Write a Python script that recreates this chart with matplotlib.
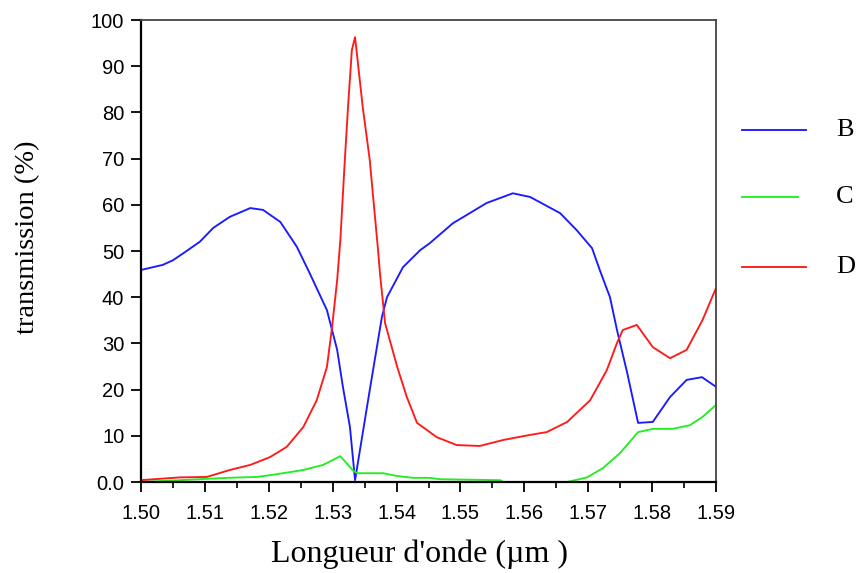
import matplotlib
matplotlib.use("Agg")
import matplotlib.pyplot as plt
from matplotlib.ticker import MultipleLocator, FuncFormatter

# wavelength (um) / transmission (%)
b_x = [1.5000, 1.5034, 1.5050, 1.5066, 1.5092, 1.5113, 1.5139, 1.5171, 1.5191,
       1.5218, 1.5244, 1.5264, 1.5291, 1.5307, 1.5316, 1.5327, 1.5335, 1.5358,
       1.5377, 1.5385, 1.5410, 1.5437, 1.5452, 1.5488, 1.5541, 1.5582, 1.5609,
       1.5656, 1.5682, 1.5706, 1.5718, 1.5734, 1.5745, 1.5761, 1.5778, 1.5801,
       1.5828, 1.5854, 1.5878, 1.5900]
b_y = [45.9, 47.0, 48.0, 49.5, 52.0, 55.0, 57.4, 59.3, 58.9,
       56.3, 50.9, 45.2, 37.2, 28.6, 20.6, 11.9, 0.4, 19.9,
       35.7, 40.0, 46.5, 50.2, 51.7, 56.0, 60.4, 62.5, 61.7,
       58.2, 54.5, 50.6, 45.9, 40.0, 32.9, 23.6, 12.8, 13.0,
       18.4, 22.1, 22.7, 20.6]

c_x = [1.5000, 1.5061, 1.5135, 1.5182, 1.5213, 1.5254, 1.5285, 1.5312, 1.5331,
       1.5338, 1.5379, 1.5401, 1.5426, 1.5452, 1.5468, 1.5562, 1.5567, 1.5667,
       1.5698, 1.5723, 1.5750, 1.5778, 1.5801, 1.5832, 1.5859, 1.5879, 1.5900]
c_y = [0.0, 0.4, 0.9, 1.1, 1.7, 2.6, 3.7, 5.6, 2.6,
       1.9, 1.9, 1.3, 0.9, 0.9, 0.6, 0.4, 0.0, 0.0,
       1.0, 3.0, 6.3, 10.8, 11.5, 11.5, 12.3, 14.1, 16.7]

d_x = [1.5000, 1.5061, 1.5103, 1.5139, 1.5171, 1.5202, 1.5228, 1.5254, 1.5275,
       1.5291, 1.5299, 1.5307, 1.5312, 1.5319, 1.5324, 1.5330, 1.5335, 1.5339,
       1.5347, 1.5358, 1.5371, 1.5374, 1.5382, 1.5401, 1.5416, 1.5432, 1.5463,
       1.5494, 1.5530, 1.5567, 1.5609, 1.5635, 1.5667, 1.5703, 1.5729, 1.5745,
       1.5754, 1.5776, 1.5801, 1.5828, 1.5854, 1.5879, 1.5900]
d_y = [0.4, 1.0, 1.1, 2.6, 3.7, 5.4, 7.6, 11.9, 17.7,
       24.9, 33.5, 43.7, 52.4, 69.7, 81.2, 93.5, 96.3, 91.3,
       81.2, 69.7, 50.2, 45.2, 34.4, 24.9, 18.4, 12.8, 9.7,
       8.0, 7.8, 9.1, 10.2, 10.8, 13.0, 17.7, 24.2, 30.1,
       32.9, 34.0, 29.2, 26.8, 28.6, 35.1, 42.0]

series = [("B", b_x, b_y, "#1a1aff"), ("C", c_x, c_y, "#22ee22"), ("D", d_x, d_y, "#ff1a1a")]

tick_font = ["Liberation Sans Narrow", "Liberation Sans", "DejaVu Sans"]
serif_font = ["Liberation Serif", "DejaVu Serif"]

fig = plt.figure(figsize=(8.63, 5.73), dpi=100)
ax = fig.add_axes([0.1634, 0.1588, 0.8297 - 0.1634, 0.965 - 0.1588])

for name, xs, ys, col in series:
    ax.plot(xs, ys, color=col, lw=1.35)

ax.set_xlim(1.50, 1.59)
ax.set_ylim(0, 100)
ax.xaxis.set_major_locator(MultipleLocator(0.01))
ax.xaxis.set_minor_locator(MultipleLocator(0.005))
ax.yaxis.set_major_locator(MultipleLocator(10))
ax.xaxis.set_major_formatter(FuncFormatter(lambda v, p: f"{v:.2f}"))
ax.yaxis.set_major_formatter(FuncFormatter(lambda v, p: "0.0" if abs(v) < 1e-9 else f"{v:.0f}"))
ax.tick_params(axis="both", which="major", direction="out", length=7, width=1.3, labelsize=14.5)
ax.tick_params(axis="x", which="major", pad=9)
ax.tick_params(axis="y", which="major", pad=5)
ax.tick_params(axis="x", which="minor", direction="out", length=4, width=1.2)
for lab in ax.get_xticklabels() + ax.get_yticklabels():
    lab.set_family(tick_font)
for side in ["left", "bottom"]:
    ax.spines[side].set_linewidth(1.6)
for side in ["top", "right"]:
    ax.spines[side].set_linewidth(1.3)
    ax.spines[side].set_color("#444444")

ax.set_xlabel("Longueur d'onde (µm )", family=serif_font, fontsize=23)
ax.set_ylabel("transmission (%)", family=serif_font, fontsize=20.5)
ax.xaxis.set_label_coords(0.485, -0.124)
ax.yaxis.set_label_coords(-0.176, 0.53)

# legend drawn to the right of the axes
leg_rows = [(130, 806), (197, 798), (267, 806)]
for (name, xs, ys, col), (py, x_end) in zip(series, leg_rows):
    yf = 1 - py / 573
    fig.add_artist(plt.Line2D([742 / 863, x_end / 863], [yf, yf], color=col, lw=1.35))
    fig.text(836 / 863, yf, name, family=serif_font, fontsize=19, va="center", ha="left")

fig.savefig("out.png", dpi=100)
